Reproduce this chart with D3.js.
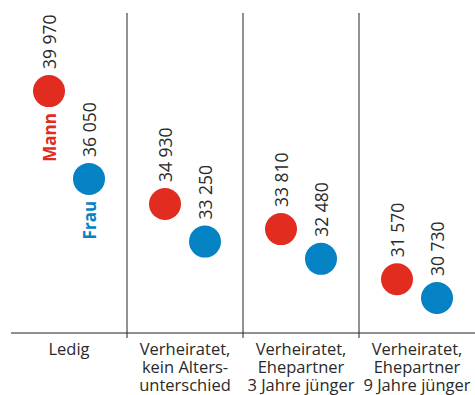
<!DOCTYPE html>
<html>
<head>
<meta charset="utf-8">
<script src="https://cdn.jsdelivr.net/npm/d3@7.9.0/dist/d3.min.js"></script>
<style>
  body { margin: 0; background: #fff; }
  svg { display: block; font-family: "Open Sans", sans-serif; }
</style>
</head>
<body>
<svg id="chart" width="475" height="395"></svg>
<script>
const categories = ['Ledig', 'Verheiratet, kein Alters- unterschied', 'Verheiratet, Ehepartner 3 Jahre jünger', 'Verheiratet, Ehepartner 9 Jahre jünger'];
const categoryLines = [
  ['Ledig'],
  ['Verheiratet,', 'kein Alters-', 'unterschied'],
  ['Verheiratet,', 'Ehepartner', '3 Jahre jünger'],
  ['Verheiratet,', 'Ehepartner', '9 Jahre jünger'],
];
const series = ['Mann', 'Frau'];
const mann = [39970, 34930, 33810, 31570];
const frau = [36050, 33250, 32480, 30730];
const colors = { Mann: '#e12c1f', Frau: '#0582c4' };

const svg = d3.select('#chart');
const baseY = 333;
const topY = 13;

const x = d3.scaleBand().domain(categories).range([11, 475]);
const offset = d3.scalePoint().domain(series).range([-20, 20]);
const y = d3.scaleLinear().domain([29170, 43500]).range([baseY, 12]);

const fmt = d3.formatLocale({ decimal: ',', thousands: ' ', grouping: [3], currency: ['', ''] }).format(',');

// separators
svg.selectAll('line.sep')
  .data(categories.slice(1))
  .join('line')
  .attr('class', 'sep')
  .attr('x1', d => x(d)).attr('x2', d => x(d))
  .attr('y1', topY).attr('y2', baseY + 5)
  .attr('stroke', '#222').attr('stroke-width', 1);

svg.append('line')
  .attr('x1', 11).attr('x2', 475)
  .attr('y1', baseY).attr('y2', baseY)
  .attr('stroke', '#222').attr('stroke-width', 1);

// category labels
categories.forEach((c, i) => {
  const t = svg.append('text')
    .attr('text-anchor', 'middle')
    .attr('font-size', 16.5)
    .attr('fill', '#2a2a2a');
  categoryLines[i].forEach((ln, j) => {
    t.append('tspan')
      .attr('x', x(c) + x.bandwidth() / 2)
      .attr('y', 355 + j * 18)
      .text(ln);
  });
});

const points = [];
categories.forEach((c, i) => {
  points.push({ s: 'Mann', c, v: mann[i], i });
  points.push({ s: 'Frau', c, v: frau[i], i });
});
const r = 16;
const px = d => x(d.c) + x.bandwidth() / 2 + offset(d.s);

svg.selectAll('circle.dot')
  .data(points)
  .join('circle')
  .attr('class', 'dot')
  .attr('cx', px)
  .attr('cy', d => y(d.v))
  .attr('r', r)
  .attr('fill', d => colors[d.s]);

// value labels (rotated)
svg.selectAll('text.val')
  .data(points)
  .join('text')
  .attr('class', 'val')
  .attr('transform', d => `translate(${px(d) + 6.5},${y(d.v) - r - 6}) rotate(-90)`)
  .attr('font-size', 17.5)
  .attr('fill', '#2a2a2a')
  .text(d => fmt(d.v));

// series labels under first pair
points.filter(d => d.i === 0).forEach(d => {
  svg.append('text')
    .attr('transform', `translate(${px(d) + 6.5},${y(d.v) + r + 6}) rotate(-90)`)
    .attr('text-anchor', 'end')
    .attr('font-size', 17)
    .attr('font-weight', 'bold')
    .attr('fill', colors[d.s])
    .text(d.s);
});
</script>
</body>
</html>
